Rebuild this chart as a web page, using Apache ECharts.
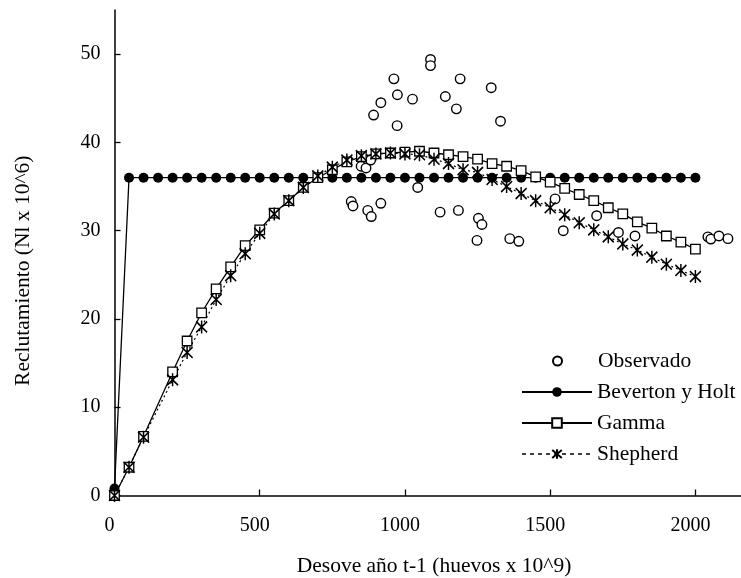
<!DOCTYPE html>
<html><head><meta charset="utf-8">
<script src="https://cdn.jsdelivr.net/npm/echarts@6/dist/echarts.min.js"></script>
<style>html,body{margin:0;padding:0;background:#fff}#c{width:741px;height:578px}</style>
</head><body><div id="c"></div>
<script>
// Observed (Observado)
const obsX = [1088,1088,962,1190,1297,974,917,1026,1139,1177,892,973,1329,849,866,882,815,821,872,884,917,1044,1121,1184,1253,1265,1248,1361,1392,1517,1545,1660,1735,1792,2043,2053,2081,2112];
const obsY = [49.4,48.7,47.2,47.2,46.2,45.4,44.5,44.9,45.2,43.8,43.1,41.9,42.4,37.3,37.1,38.0,33.3,32.8,32.3,31.6,33.1,34.9,32.1,32.3,31.4,30.7,28.9,29.1,28.8,33.6,30.0,31.7,29.8,29.4,29.3,29.05,29.4,29.1];
// Beverton y Holt
const bhX = [0,50,100,150,200,250,300,350,400,450,500,550,600,650,700,750,800,850,900,950,1000,1050,1100,1150,1200,1250,1300,1350,1400,1450,1500,1550,1600,1650,1700,1750,1800,1850,1900,1950,2000];
const bhY = [0.8,36.0,36.0,36.0,36.0,36.0,36.0,36.0,36.0,36.0,36.0,36.0,36.0,36.0,36.0,36.0,36.0,36.0,36.0,36.0,36.0,36.0,36.0,36.0,36.0,36.0,36.0,36.0,36.0,36.0,36.0,36.0,36.0,36.0,36.0,36.0,36.0,36.0,36.0,36.0,36.0];
// Gamma & Shepherd (same spawning values)
const modX = [0,50,100,200,250,300,350,400,450,500,550,600,650,700,750,800,850,900,950,1000,1050,1100,1150,1200,1250,1300,1350,1400,1450,1500,1550,1600,1650,1700,1750,1800,1850,1900,1950,2000];
const gammaY = [0,3.2,6.7,14.0,17.5,20.7,23.4,25.9,28.3,30.1,32.0,33.4,34.9,36.0,36.9,37.8,38.4,38.7,38.8,38.9,39.0,38.8,38.6,38.4,38.1,37.6,37.3,36.8,36.1,35.5,34.8,34.1,33.4,32.6,31.9,31.0,30.3,29.4,28.7,27.9];
const shepY = [0,3.2,6.6,13.1,16.2,19.1,22.2,24.9,27.4,29.7,31.9,33.4,34.9,36.2,37.2,38.0,38.5,38.7,38.8,38.7,38.6,38.1,37.6,36.9,36.6,35.8,35.0,34.2,33.4,32.6,31.8,30.9,30.1,29.3,28.5,27.8,27.0,26.2,25.5,24.8];
// Ticks
const xTicks = [0,500,1000,1500,2000];
const yTicks = [0,10,20,30,40,50];

const zip = (a,b) => a.map((v,i) => [v,b[i]]);
const FONT = 'Liberation Serif';
const chart = echarts.init(document.getElementById('c'), null, {renderer:'canvas'});
const txt = {color:'#000', fontFamily:FONT, fontSize:21.5};
chart.setOption({
  animation:false,
  backgroundColor:'#fff',
  grid:{left:114.5, top:10, width:639, height:485.5, containLabel:false, outerBoundsMode:'none'},
  xAxis:{type:'value', min:0, max:2200, interval:500,
    name:'Desove año t-1 (huevos x 10^9)', nameLocation:'middle', nameGap:60, nameTextStyle:txt,
    axisLine:{show:true, lineStyle:{color:'#000', width:1.5}},
    axisTick:{show:true, inside:true, length:6, lineStyle:{color:'#000', width:1.3}, customValues:xTicks},
    axisLabel:{color:'#000', fontFamily:FONT, fontSize:20, margin:20, customValues:xTicks,
      formatter:(v)=>String(v), padding:[0,10,0,0]},
    splitLine:{show:false}},
  yAxis:{type:'value', min:0, max:55, interval:10,
    name:'Reclutamiento (Nl x 10^6)', nameLocation:'middle', nameGap:80, nameTextStyle:Object.assign({padding:[0,36,0,0]}, txt),
    axisLine:{show:true, lineStyle:{color:'#000', width:1.5}},
    axisTick:{show:true, inside:true, length:6, lineStyle:{color:'#000', width:1.3}, customValues:yTicks},
    axisLabel:{color:'#000', fontFamily:FONT, fontSize:20, margin:14, customValues:yTicks, formatter:(v)=>String(v)},
    splitLine:{show:false}},
  legend:[
    {data:['Observado'], orient:'vertical', left:552, top:350, padding:0, itemWidth:9, itemHeight:9, selectedMode:false,
      textStyle:Object.assign({padding:[0,0,0,31]}, txt)},
    {data:['Beverton y Holt','Gamma',{name:'Shepherd', lineStyle:{type:[4,4], width:1.3}}], orient:'vertical', left:521, top:381, padding:0, itemWidth:70, itemHeight:12, itemGap:9, selectedMode:false, textStyle:txt}
  ],
  series:[
    {type:'scatter', name:'Observado', data:zip(obsX,obsY), symbol:'circle', symbolSize:9.5,
      itemStyle:{color:'#fff', borderColor:'#000', borderWidth:1.4, opacity:1}},
    {type:'line', name:'Beverton y Holt', data:zip(bhX,bhY), symbol:'circle', symbolSize:10, showAllSymbol:true,
      itemStyle:{color:'#000', borderColor:'#000', borderWidth:0}, lineStyle:{color:'#000', width:1.3}},
    {type:'line', name:'Gamma', data:zip(modX,gammaY), symbol:'rect', symbolSize:9.5, showAllSymbol:true,
      itemStyle:{color:'#fff', borderColor:'#000', borderWidth:1.3}, lineStyle:{color:'#000', width:1.3}},
    {type:'line', name:'Shepherd', data:zip(modX,shepY), symbol:'path://M0,-6L0,6M-5,-5L5,5M-5,5L5,-5', symbolSize:[11,13], showAllSymbol:true,
      itemStyle:{color:'#000', borderColor:'#000', borderWidth:1.6}, lineStyle:{color:'#000', width:1.2, type:[2,3]}}
  ]
});
</script></body></html>
